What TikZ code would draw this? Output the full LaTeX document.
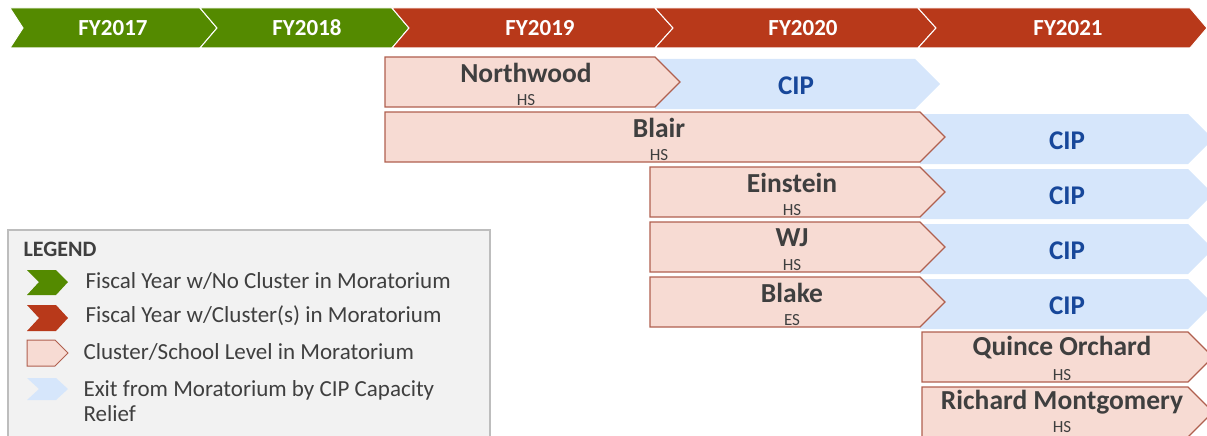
\documentclass[tikz,border=0pt]{standalone}
\usepackage{fontspec}
\setmainfont{Carlito}
\usepackage{xcolor}
\definecolor{fygreen}{HTML}{548A00}
\definecolor{fyred}{HTML}{B8391A}
\definecolor{morfill}{HTML}{F7DBD3}
\definecolor{morline}{HTML}{B0604F}
\definecolor{cipfill}{HTML}{D6E6FB}
\definecolor{ciptext}{HTML}{17479A}
\definecolor{txtgray}{HTML}{3F3F3F}
\definecolor{legfill}{HTML}{F2F2F2}
\definecolor{legline}{HTML}{BDBDBD}

\begin{document}
\begin{tikzpicture}[x=1pt, y=-1pt,
    fybar/.style={draw=white, line width=1pt},
    fylabel/.style={text=white, font=\fontsize{23}{25}\selectfont\bfseries},
    morbox/.style={fill=morfill, draw=morline, line width=1.3pt, line join=miter},
    cipbox/.style={fill=cipfill},
    schname/.style={text=txtgray, font=\fontsize{27.5}{29}\selectfont\bfseries},
    schlevel/.style={text=txtgray, font=\fontsize{17}{18}\selectfont},
    ciplabel/.style={text=ciptext, font=\fontsize{27}{29}\selectfont\bfseries},
    legtext/.style={text=txtgray, anchor=west, font=\fontsize{23}{25}\selectfont}]
    \useasboundingbox (0,0) rectangle (1207,436);
    \clip (0,0) rectangle (1207,436);

    % fiscal year bar
    \draw[fybar, fill=fygreen] (10,8) -- (200,8) -- (217,28) -- (200,48) -- (10,48) -- (23,28) -- cycle;
    \draw[fybar, fill=fygreen] (200,8) -- (392,8) -- (409,28) -- (392,48) -- (200,48) -- (217,28) -- cycle;
    \draw[fybar, fill=fyred] (392,8) -- (655,8) -- (673,28) -- (655,48) -- (392,48) -- (409,28) -- cycle;
    \draw[fybar, fill=fyred] (655,8) -- (918,8) -- (936,28) -- (918,48) -- (655,48) -- (673,28) -- cycle;
    \draw[fybar, fill=fyred] (918,8) -- (1190,8) -- (1207,28) -- (1190,48) -- (918,48) -- (936,28) -- cycle;
    \node[fylabel] (fy17) at (113,28) {FY2017};
    \node[fylabel] (fy18) at (307,28) {FY2018};
    \node[fylabel] (fy19) at (540,28) {FY2019};
    \node[fylabel] (fy20) at (803,28) {FY2020};
    \node[fylabel] (fy21) at (1068,28) {FY2021};

    % exit by CIP
    \fill[cipbox] (655,59) -- (915,59) -- (940,84) -- (915,109) -- (655,109) -- cycle;
    \fill[cipbox] (920,114) -- (1188,114) -- (1213,139) -- (1188,164) -- (920,164) -- cycle;
    \fill[cipbox] (920,169) -- (1188,169) -- (1213,194) -- (1188,219) -- (920,219) -- cycle;
    \fill[cipbox] (920,224) -- (1188,224) -- (1213,249) -- (1188,274) -- (920,274) -- cycle;
    \fill[cipbox] (920,279) -- (1188,279) -- (1213,304) -- (1188,329) -- (920,329) -- cycle;
    \node[ciplabel] (cipnw) at (796,86) {CIP};
    \node[ciplabel] (cipbl) at (1067,141) {CIP};
    \node[ciplabel] (cipei) at (1067,196) {CIP};
    \node[ciplabel] (cipwj) at (1067,251) {CIP};
    \node[ciplabel] (cipbk) at (1067,306) {CIP};

    % clusters in moratorium
    \draw[morbox] (385,57) -- (655,57) -- (680,82) -- (655,107) -- (385,107) -- cycle;
    \draw[morbox] (385,112) -- (920,112) -- (945,137) -- (920,162) -- (385,162) -- cycle;
    \draw[morbox] (650,167) -- (920,167) -- (945,192) -- (920,217) -- (650,217) -- cycle;
    \draw[morbox] (650,222) -- (920,222) -- (945,247) -- (920,272) -- (650,272) -- cycle;
    \draw[morbox] (650,277) -- (920,277) -- (945,302) -- (920,327) -- (650,327) -- cycle;
    \draw[morbox] (922,332) -- (1188,332) -- (1213,357) -- (1188,382) -- (922,382) -- cycle;
    \draw[morbox] (922,387) -- (1188,387) -- (1213,412) -- (1188,437) -- (922,437) -- cycle;

    \node[schname] (northwood) at (526,73) {Northwood};
    \node[schlevel] (northwoodlv) at (526,100) {HS};
    \node[schname] (blair) at (659,128) {Blair};
    \node[schlevel] (blairlv) at (659,155) {HS};
    \node[schname] (einstein) at (792,183) {Einstein};
    \node[schlevel] (einsteinlv) at (792,210) {HS};
    \node[schname] (wj) at (792,238) {WJ};
    \node[schlevel] (wjlv) at (792,265) {HS};
    \node[schname] (blake) at (792,293) {Blake};
    \node[schlevel] (blakelv) at (792,320) {ES};
    \node[schname] (quince) at (1062,348) {Quince Orchard};
    \node[schlevel] (quincelv) at (1062,375) {HS};
    \node[schname] (richard) at (1062,402) {Richard Montgomery};
    \node[schlevel] (richardlv) at (1062,427) {HS};

    % legend
    \draw[fill=legfill, draw=legline, line width=1.2pt] (8,230) rectangle (490,450);
    \node[text=txtgray, anchor=west, font=\fontsize{22}{24}\selectfont\bfseries] (legtitle) at (20,249) {LEGEND};
    \fill[fygreen] (27,270) -- (56,270) -- (68,282) -- (56,295) -- (27,295) -- (39,282) -- cycle;
    \fill[fyred] (27,305) -- (56,305) -- (68,318) -- (56,331) -- (27,331) -- (39,318) -- cycle;
    \draw[morbox, line width=1pt] (27,340) -- (55,340) -- (68,353) -- (55,366) -- (27,366) -- cycle;
    \fill[cipbox] (27,378) -- (56,378) -- (68,389) -- (56,400) -- (27,400) -- (39,389) -- cycle;
    \node[legtext] (legno) at (82,281) {Fiscal Year w/No Cluster in Moratorium};
    \node[legtext] (legyes) at (82,316) {Fiscal Year w/Cluster(s) in Moratorium};
    \node[legtext] (legmor) at (80,352) {Cluster/School Level in Moratorium};
    \node[legtext, align=left] (legcip) at (80,401) {Exit from Moratorium by CIP Capacity\\Relief};
\end{tikzpicture}
\end{document}
